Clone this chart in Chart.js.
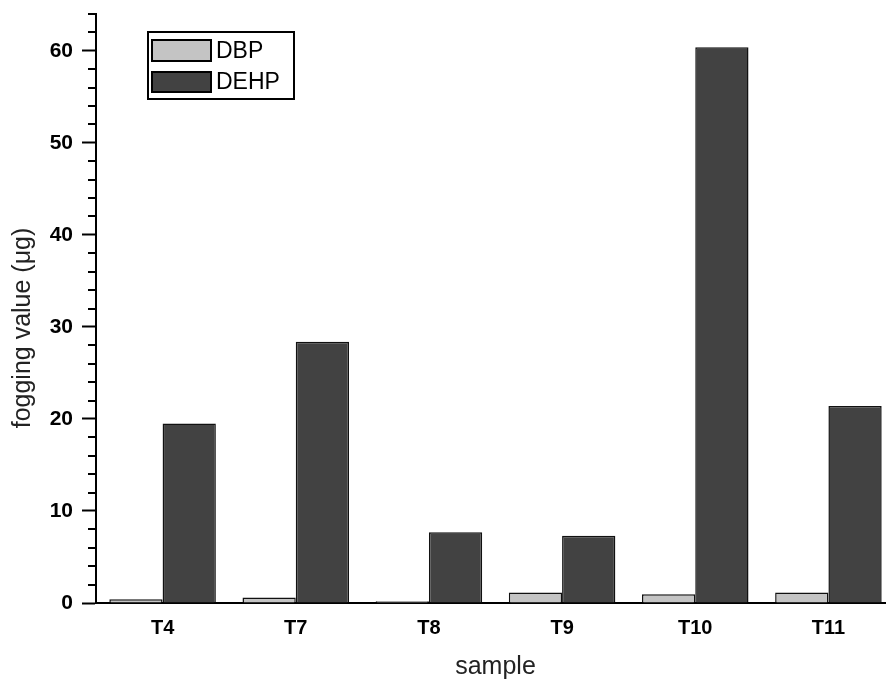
<!DOCTYPE html>
<html><head><meta charset="utf-8">
<script src="https://cdn.jsdelivr.net/npm/chart.js@4/dist/chart.umd.min.js"></script>
<style>
html,body{margin:0;padding:0;background:#fff;overflow:hidden}
#wrap{width:886px;height:680px;overflow:hidden;position:relative}
#box{width:900px;height:680px}
</style></head><body>
<div id="wrap"><div id="box"><canvas id="c" width="900" height="680"></canvas></div></div>
<script>
const categories = ["T4","T7","T8","T9","T10","T11"];
const dbpValues  = [0.4, 0.6, 0.2, 1.15, 0.95, 1.15];
const dehpValues = [19.5, 28.4, 7.7, 7.3, 60.4, 21.4];
const seriesNames = ["DBP","DEHP"];
const yTitle = "fogging value (\u03bcg)";
const xTitle = "sample";
const FONT = '"Liberation Sans", Arial, sans-serif';

const minorTicks = {
  id:'minorTicks',
  afterDraw(chart){
    const y = chart.scales.y, ctx = chart.ctx, left = chart.chartArea.left;
    ctx.save();
    ctx.strokeStyle = '#000'; ctx.lineWidth = 2;
    for(let v=2; v<=64; v+=2){
      if(v%10===0) continue;
      const py = Math.round(y.getPixelForValue(v));
      ctx.beginPath(); ctx.moveTo(left-8, py); ctx.lineTo(left, py); ctx.stroke();
    }
    ctx.fillStyle = '#222';
    ctx.font = '25px ' + FONT;
    ctx.translate(23, 328);
    ctx.rotate(-Math.PI/2);
    ctx.textAlign = 'center'; ctx.textBaseline = 'middle';
    ctx.fillText(yTitle, 0, 0);
    ctx.restore();
  }
};

const boxLegend = {
  id:'boxLegend',
  afterDraw(chart){
    const ctx = chart.ctx;
    ctx.save();
    ctx.lineWidth = 2; ctx.strokeStyle = '#000';
    ctx.strokeRect(148, 32, 146, 67);
    const rows = [{y:40,h:21},{y:72,h:20}];
    chart.data.datasets.forEach((ds,i)=>{
      const r = rows[i];
      ctx.fillStyle = ds.backgroundColor;
      ctx.fillRect(152, r.y, 59, r.h);
      ctx.strokeRect(152, r.y, 59, r.h);
      ctx.fillStyle = '#000';
      ctx.font = '23px ' + FONT;
      ctx.textBaseline = 'middle'; ctx.textAlign = 'left';
      ctx.fillText(ds.label, 216, r.y + r.h/2 + 1);
    });
    ctx.restore();
  }
};

new Chart(document.getElementById('c'), {
  type:'bar',
  data:{
    labels: categories,
    datasets:[
      {label:seriesNames[0], data:dbpValues, backgroundColor:'#c4c4c4', borderColor:'#111', borderWidth:1.5},
      {label:seriesNames[1], data:dehpValues, backgroundColor:'#424242', borderColor:'#111', borderWidth:1.5}
    ]
  },
  options:{
    responsive:false, animation:false,
    layout:{padding:{top:14,right:5,left:0,bottom:0}},
    datasets:{bar:{categoryPercentage:0.8, barPercentage:1.0}},
    plugins:{legend:{display:false}, tooltip:{enabled:false}},
    scales:{
      x:{
        grid:{display:false},
        border:{display:true,color:'#000',width:2},
        ticks:{color:'#000',padding:5,font:{family:FONT,size:20,weight:'bold'}},
        title:{display:true,text:xTitle,color:'#222',font:{family:FONT,size:25},padding:{top:10,bottom:-2}},
        afterFit(s){ s.height = 77; s.paddingLeft = 0; s.paddingRight = 0; }
      },
      y:{
        min:0,max:64,
        grid:{display:true,drawOnChartArea:false,drawTicks:true,tickLength:14,tickWidth:2,
              tickColor:(c)=> (c.tick && c.tick.value%10===0) ? '#000' : 'rgba(0,0,0,0)'},
        border:{display:true,color:'#000',width:2},
        ticks:{stepSize:2,autoSkip:false,color:'#000',padding:9,
               font:{family:FONT,size:21,weight:'bold'},
               callback:(v)=> v%10===0 ? String(v) : ''},
        title:{display:false},
        afterFit(s){ s.width = 96; s.paddingTop = 0; s.paddingBottom = 0; }
      }
    }
  },
  plugins:[minorTicks, boxLegend]
});
</script>
</body></html>
